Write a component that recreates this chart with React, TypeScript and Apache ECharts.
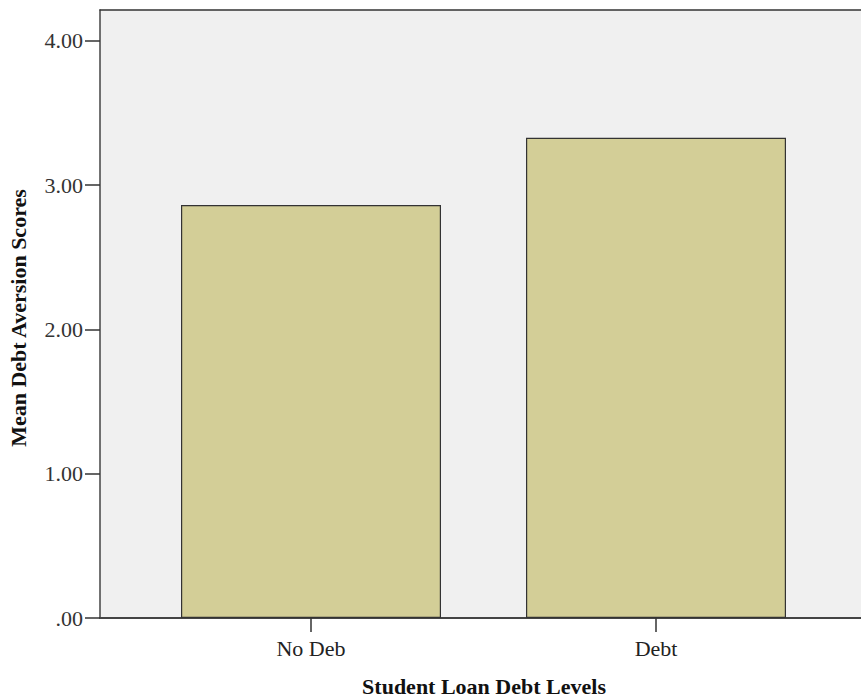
import React, { useEffect, useRef } from "react";
import * as echarts from "echarts";

const categories = ["No Deb", "Debt"];
const meanScores = [2.862, 3.328];
const yTickValues = [0, 1, 2, 3, 4];
const yMax = 4.213;
const xTitle = "Student Loan Debt Levels";
const yTitle = "Mean Debt Aversion Scores";

const fmt = (v: number) => (v === 0 ? ".00" : v.toFixed(2));

export default function App() {
  const ref = useRef<HTMLDivElement>(null);
  useEffect(() => {
    document.body.style.margin = "0";
    const chart = echarts.init(ref.current!, undefined, { renderer: "svg" });
    const font = "'Liberation Serif', 'Times New Roman', serif";
    chart.setOption({
      animation: false,
      backgroundColor: "#ffffff",
      grid: [
        { left: 100, right: 0, top: 10, bottom: 80, show: true, backgroundColor: "#f0f0f0", borderWidth: 0 },
        { left: 138.5, width: 690, top: 10, bottom: 80 },
      ],
      xAxis: [
        {
          gridIndex: 0, type: "value", min: 0, max: 1, position: "bottom",
          axisLine: { show: true, lineStyle: { color: "#444", width: 2 } },
          axisTick: { show: false }, axisLabel: { show: false }, splitLine: { show: false },
        },
        {
          gridIndex: 0, type: "value", min: 0, max: 1, position: "top",
          axisLine: { show: true, lineStyle: { color: "#333", width: 1.5 } },
          axisTick: { show: false }, axisLabel: { show: false }, splitLine: { show: false },
        },
        {
          gridIndex: 1, type: "category", data: categories, position: "bottom",
          axisLine: { show: false },
          axisTick: { show: true, alignWithLabel: true, length: 14, lineStyle: { color: "#333", width: 1.5 } },
          axisLabel: { fontFamily: font, fontSize: 22, color: "#222", margin: 19 },
        },
      ],
      yAxis: [
        {
          gridIndex: 0, type: "value", min: 0, max: yMax,
          axisLine: { show: true, lineStyle: { color: "#444", width: 1.5 } },
          axisTick: { show: true, length: 15, customValues: yTickValues, lineStyle: { color: "#333", width: 1.5 } },
          axisLabel: { customValues: yTickValues, formatter: (v: number) => fmt(v), fontFamily: font, fontSize: 22, color: "#333", margin: 17 },
          splitLine: { show: false },
        },
        {
          gridIndex: 1, type: "value", min: 0, max: yMax, show: false,
        },
      ],
      graphic: [
        {
          type: "text", x: 484, y: 686,
          style: { text: xTitle, font: `bold 22px ${font}`, fill: "#111", align: "center", verticalAlign: "middle" },
        },
        {
          type: "text", x: 18, y: 318, rotation: Math.PI / 2,
          style: { text: yTitle, font: `bold 22px ${font}`, fill: "#111", align: "center", verticalAlign: "middle" },
        },
      ],
      series: [
        {
          type: "bar", xAxisIndex: 2, yAxisIndex: 1, data: meanScores, barWidth: 260,
          itemStyle: { color: "#d3ce97", borderColor: "#333", borderWidth: 1.2 },
        },
      ],
    });
    return () => chart.dispose();
  }, []);
  return <div ref={ref} style={{ width: 861, height: 698 }} />;
}
